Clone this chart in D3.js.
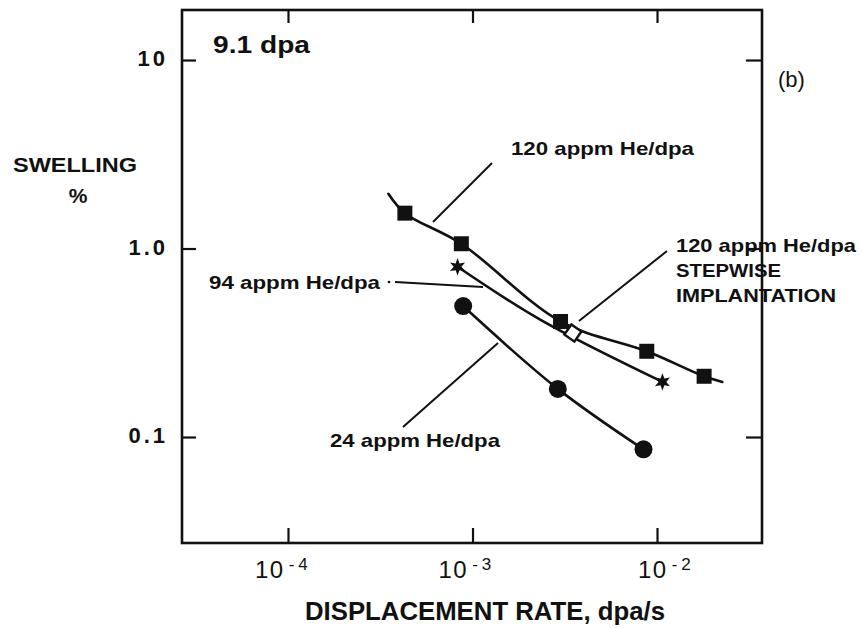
<!DOCTYPE html>
<html>
<head>
<meta charset="utf-8">
<script src="https://cdn.jsdelivr.net/npm/d3@7/dist/d3.min.js"></script>
<style>
  html, body { margin: 0; padding: 0; background: #fff; }
  svg { display: block; }
  text { font-family: "Liberation Sans", Arial, Helvetica, sans-serif; fill: #111; }
</style>
</head>
<body>
<svg id="chart" width="862" height="628"></svg>
<script>
// Swelling vs displacement rate at 9.1 dpa, for several helium co-implantation ratios

// 120 appm He/dpa (filled squares)
const rate120 = [4.3e-4, 8.7e-4, 3.0e-3, 8.8e-3, 1.8e-2];
const swell120 = [1.54, 1.06, 0.41, 0.285, 0.21];
// fitted curve for 120 appm He/dpa extends a little beyond the measured points
const curveRate120 = [3.5e-4, 4.3e-4, 8.7e-4, 3.0e-3, 8.8e-3, 1.8e-2, 2.26e-2];
const curveSwell120 = [1.95, 1.54, 1.06, 0.41, 0.285, 0.21, 0.196];

// 94 appm He/dpa (stars)
const rate94 = [8.3e-4, 1.07e-2];
const swell94 = [0.80, 0.196];
// fitted curve for 94 appm He/dpa, running just below the 120 appm curve
const curveRate94 = [8.3e-4, 2.34e-3, 1.07e-2];
const curveSwell94 = [0.80, 0.418, 0.196];

// 120 appm He/dpa, stepwise implantation (open diamond)
const rateStep = [3.5e-3];
const swellStep = [0.356];

// 24 appm He/dpa (filled circles)
const rate24 = [8.9e-4, 2.9e-3, 8.45e-3];
const swell24 = [0.495, 0.18, 0.086];

// axis ticks
const xTicks = [1e-4, 1e-3, 1e-2];
const xTickExp = ["-4", "-3", "-2"];
const yTicks = [10, 1, 0.1];
const yTickLabels = ["10", "1.0", "0.1"];

// ---- layout ----
const frame = { left: 182, right: 762, top: 10, bottom: 543 };
const svg = d3.select("#chart");

const x = d3.scaleLog().domain([2.664e-5, 3.707e-2]).range([frame.left, frame.right]);
const y = d3.scaleLog().domain([0.0274, 18.42]).range([frame.bottom, frame.top]);

// ---- frame and inward ticks ----
const axStyle = g => {
  g.select(".domain").remove();
  g.selectAll(".tick line").attr("stroke", "#111").attr("stroke-width", 2.2);
  g.selectAll(".tick text").remove();
};
svg.append("g").attr("transform", `translate(0,${frame.bottom})`)
  .call(d3.axisBottom(x).tickValues(xTicks).tickSizeInner(-15).tickSizeOuter(0)).call(axStyle);
svg.append("g").attr("transform", `translate(0,${frame.top})`)
  .call(d3.axisTop(x).tickValues(xTicks).tickSizeInner(-13).tickSizeOuter(0)).call(axStyle);
svg.append("g").attr("transform", `translate(${frame.left},0)`)
  .call(d3.axisLeft(y).tickValues(yTicks).tickSizeInner(-14).tickSizeOuter(0)).call(axStyle);
svg.append("g").attr("transform", `translate(${frame.right},0)`)
  .call(d3.axisRight(y).tickValues(yTicks).tickSizeInner(-16).tickSizeOuter(0)).call(axStyle);

svg.append("rect")
  .attr("x", frame.left).attr("y", frame.top)
  .attr("width", frame.right - frame.left).attr("height", frame.bottom - frame.top)
  .attr("fill", "none").attr("stroke", "#111").attr("stroke-width", 2.6);

// ---- tick labels ----
const xLabelShift = [-33, -34, -19];
const xl = svg.append("g");
xTicks.forEach((t, i) => {
  const txt = xl.append("text")
    .attr("x", x(t) + xLabelShift[i]).attr("y", 578)
    .attr("font-size", 24).attr("letter-spacing", 1.5);
  txt.append("tspan").text("10");
  txt.append("tspan").attr("dx", 4).attr("dy", -8).attr("font-size", 17)
    .attr("letter-spacing", 4).text(xTickExp[i]);
});
svg.append("g").selectAll("text").data(yTicks).join("text")
  .attr("x", 168).attr("y", d => y(d) + 6)
  .attr("text-anchor", "end").attr("font-size", 22).attr("font-weight", "bold")
  .attr("letter-spacing", 3)
  .text((d, i) => yTickLabels[i]);

// ---- axis titles ----
svg.append("text").attr("x", 305).attr("y", 620)
  .attr("font-size", 26).attr("font-weight", "bold")
  .attr("textLength", 360).attr("lengthAdjust", "spacingAndGlyphs")
  .text("DISPLACEMENT RATE, dpa/s");
svg.append("text").attr("x", 13).attr("y", 172)
  .attr("font-size", 21).attr("font-weight", "bold")
  .attr("textLength", 124).attr("lengthAdjust", "spacingAndGlyphs")
  .text("SWELLING");
svg.append("text").attr("x", 78).attr("y", 203).attr("text-anchor", "middle")
  .attr("font-size", 21).attr("font-weight", "bold").text("%");

svg.append("text").attr("x", 213).attr("y", 53)
  .attr("font-size", 23).attr("font-weight", "bold")
  .attr("textLength", 97).attr("lengthAdjust", "spacingAndGlyphs")
  .text("9.1 dpa");
svg.append("text").attr("x", 778).attr("y", 87)
  .attr("font-size", 22).text("(b)");

// ---- curves ----
const line = d3.line().x(d => x(d[0])).y(d => y(d[1])).curve(d3.curveCatmullRom.alpha(0.5));
const zip = (a, b) => a.map((v, i) => [v, b[i]]);

const curves = svg.append("g").attr("fill", "none").attr("stroke", "#111")
  .attr("stroke-width", 2.6).attr("stroke-linecap", "round");
curves.append("path").attr("d", line(zip(curveRate120, curveSwell120)));
curves.append("path").attr("d", line(zip(curveRate94, curveSwell94)));
curves.append("path").attr("d", line(zip(rate24, swell24)));

// ---- markers ----
const star6 = {
  draw(ctx, size) {
    const R = Math.sqrt(size) / 2, r = R * 0.45;
    for (let k = 0; k < 12; k++) {
      const a = -Math.PI / 2 + k * Math.PI / 6;
      const rr = k % 2 === 0 ? R : r;
      const px = rr * Math.cos(a), py = rr * Math.sin(a);
      k === 0 ? ctx.moveTo(px, py) : ctx.lineTo(px, py);
    }
    ctx.closePath();
  }
};

const marks = svg.append("g");
marks.selectAll(".sq").data(zip(rate120, swell120)).join("path")
  .attr("class", "sq")
  .attr("transform", d => `translate(${x(d[0])},${y(d[1])})`)
  .attr("d", d3.symbol(d3.symbolSquare, 225)())
  .attr("fill", "#111");
marks.selectAll(".st").data(zip(rate94, swell94)).join("path")
  .attr("class", "st")
  .attr("transform", d => `translate(${x(d[0])},${y(d[1])})`)
  .attr("d", d3.symbol(star6, 300)())
  .attr("fill", "#111");
marks.selectAll(".dm").data(zip(rateStep, swellStep)).join("path")
  .attr("class", "dm")
  .attr("transform", d => `translate(${x(d[0])},${y(d[1])}) rotate(35)`)
  .attr("d", d3.symbol(d3.symbolSquare, 150)())
  .attr("fill", "#fff").attr("stroke", "#111").attr("stroke-width", 2.4);
marks.selectAll(".ci").data(zip(rate24, swell24)).join("circle")
  .attr("class", "ci")
  .attr("cx", d => x(d[0])).attr("cy", d => y(d[1])).attr("r", 9)
  .attr("fill", "#111");

// ---- annotations with leader lines ----
const ann = svg.append("g");
const leader = (x1, y1, x2, y2) => ann.append("line")
  .attr("x1", x1).attr("y1", y1).attr("x2", x2).attr("y2", y2)
  .attr("stroke", "#111").attr("stroke-width", 2);
const label = (tx, ty, str, len) => ann.append("text")
  .attr("x", tx).attr("y", ty).attr("font-size", 19).attr("font-weight", "bold")
  .attr("textLength", len).attr("lengthAdjust", "spacingAndGlyphs").text(str);

label(511, 155, "120 appm He/dpa", 183);
leader(492, 163, 433, 222);

label(209, 289, "94 appm He/dpa", 171);
ann.append("circle").attr("cx", 389).attr("cy", 282).attr("r", 1.3).attr("fill", "#111");
leader(395, 282, 483, 287);

label(676, 252, "120 appm He/dpa", 180);
label(676, 277, "STEPWISE", 105);
label(676, 302, "IMPLANTATION", 160);
leader(667, 251, 579, 321);

label(330, 447, "24 appm He/dpa", 170);
leader(403, 427, 498, 343);
</script>
</body>
</html>
